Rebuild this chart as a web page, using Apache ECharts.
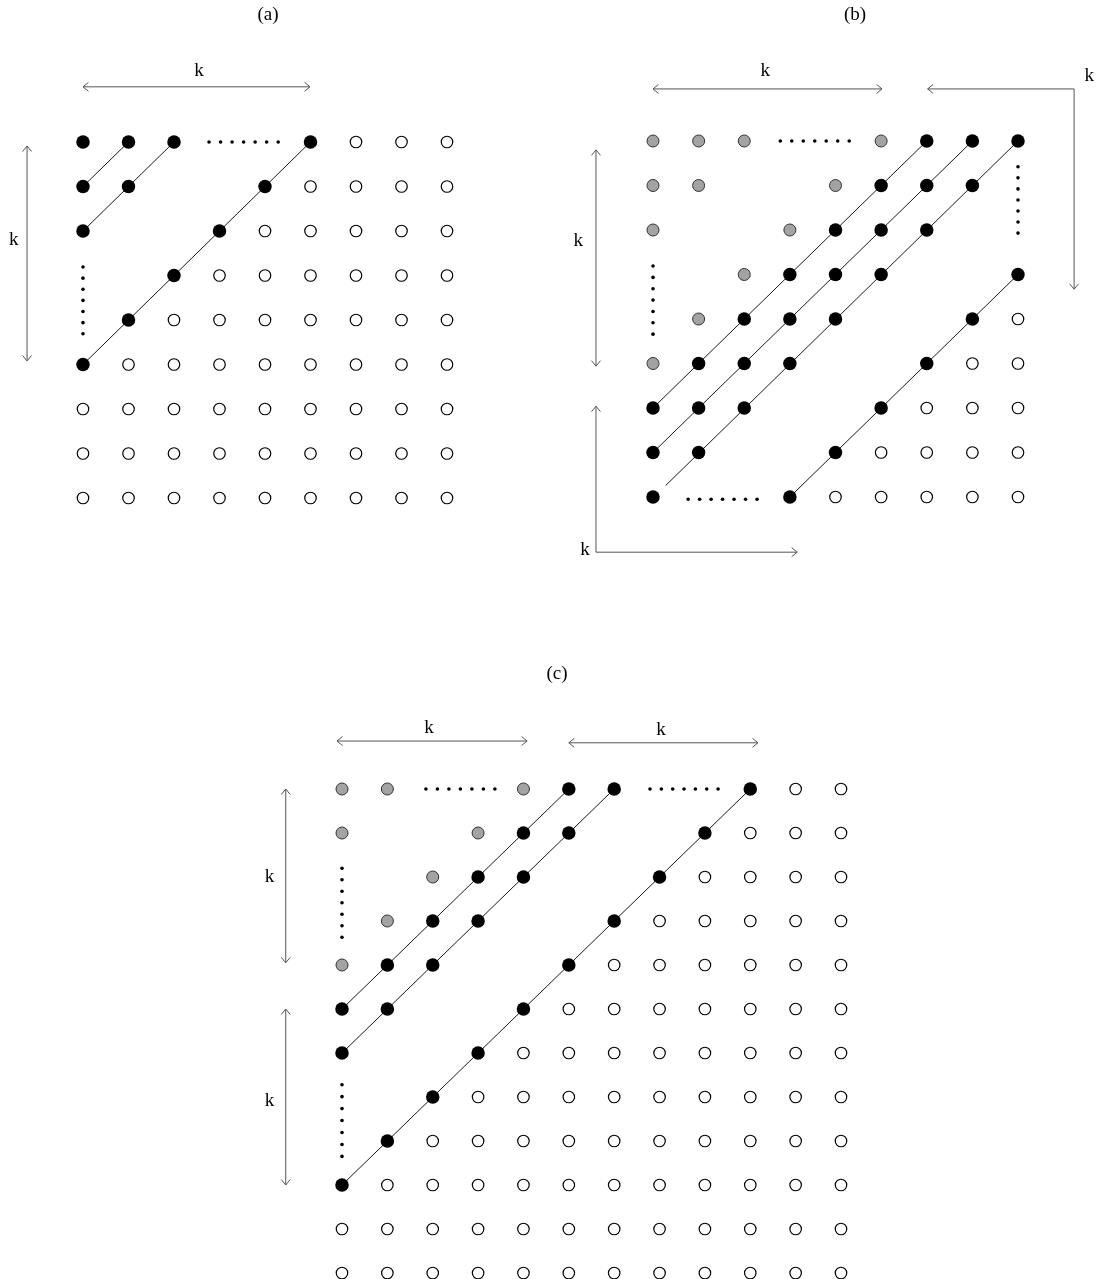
<!DOCTYPE html>
<html>
<head>
<meta charset="utf-8">
<script src="https://cdn.jsdelivr.net/npm/echarts@6/dist/echarts.min.js"></script>
<style>
html,body{margin:0;padding:0;background:#fff;}
#chart{width:1099px;height:1279px;}
</style>
</head>
<body>
<div id="chart"></div>
<script>
// ---------------- DATA (grid units: column index, row index) ----------------
// Panel (a): 9 x 9 lattice
const aBlackByRow = [[0,1,2,5],[0,1,4],[0,3],[2],[1],[0],[],[],[]];
const aGrayByRow  = [[],[],[],[],[],[],[],[],[]];
const aWhiteByRow = [[6,7,8],[5,6,7,8],[4,5,6,7,8],[3,4,5,6,7,8],[2,3,4,5,6,7,8],
                     [1,2,3,4,5,6,7,8],[0,1,2,3,4,5,6,7,8],[0,1,2,3,4,5,6,7,8],[0,1,2,3,4,5,6,7,8]];
const aDiagonals  = [[0,1,1,0],[0,2,2,0],[0,5,5,0]];
const aDotRuns    = [[2.77,0,4.29,0],[0,2.81,0,4.31]];
const aArrows     = [[0,-1.24,4.99,-1.24,1,1],[-1.23,0.09,-1.23,4.92,1,1]];
const aLabels     = [[2.55,-1.6],[-1.52,2.2]];

// Panel (b): 9 x 9 lattice
const bBlackByRow = [[6,7,8],[5,6,7],[4,5,6],[3,4,5,8],[2,3,4,7],[1,2,3,6],[0,1,2,5],[0,1,4],[0,3]];
const bGrayByRow  = [[0,1,2,5],[0,1,4],[0,3],[2],[1],[0],[],[],[]];
const bWhiteByRow = [[],[],[],[],[8],[7,8],[6,7,8],[5,6,7,8],[4,5,6,7,8]];
const bDiagonals  = [[0,6,6,0],[0,7,7,0],[0.28,7.74,8,0],[3,8,8,3]];
const bDotRuns    = [[2.79,0,4.30,0],[8,0.58,8,2.07],[0,2.81,0,4.34],[0.77,8.05,2.28,8.05]];
const bArrows     = [[0,-1.17,5.02,-1.17,1,1],[6.02,-1.17,9.23,-1.17,1,0],[9.23,-1.17,9.23,3.33,0,1],
                     [-1.25,0.2,-1.25,5.06,1,1],[-1.25,5.96,-1.25,9.24,1,0],[-1.25,9.24,3.16,9.24,0,1]];
const bLabels     = [[2.46,-1.57],[9.56,-1.46],[-1.64,2.25],[-1.49,9.2]];

// Panel (c): 12 x 12 lattice
const cBlackByRow = [[5,6,9],[4,5,8],[3,4,7],[2,3,6],[1,2,5],[0,1,4],[0,3],[2],[1],[0],[],[]];
const cGrayByRow  = [[0,1,4],[0,3],[2],[1],[0],[],[],[],[],[],[],[]];
const cWhiteByRow = [[10,11],[9,10,11],[8,9,10,11],[7,8,9,10,11],[6,7,8,9,10,11],[5,6,7,8,9,10,11],
                     [4,5,6,7,8,9,10,11],[3,4,5,6,7,8,9,10,11],[2,3,4,5,6,7,8,9,10,11],
                     [1,2,3,4,5,6,7,8,9,10,11],[0,1,2,3,4,5,6,7,8,9,10,11],[0,1,2,3,4,5,6,7,8,9,10,11]];
const cDiagonals  = [[0,5,5,0],[0,6,6,0],[0,9,9,0]];
const cDotRuns    = [[1.85,0,3.37,0],[6.79,0,8.29,0],[0,1.8,0,3.37],[0,6.72,0,8.35]];
const cArrows     = [[-0.11,-1.09,4.08,-1.09,1,1],[5.0,-1.05,9.17,-1.05,1,1],
                     [-1.24,0.0,-1.24,3.95,1,1],[-1.24,5.0,-1.24,9.0,1,1]];
const cLabels     = [[1.92,-1.38],[7.03,-1.34],[-1.6,2.0],[-1.6,7.1]];

const panelTitles = ['(a)','(b)','(c)'];
const axisMax     = [8, 8, 11];

// ---------------- LAYOUT / STYLE ----------------
const FONT = '19px "Liberation Serif", "Times New Roman", serif';
const grids = [
  {left:83,  top:142, width:364, height:356},
  {left:653, top:141, width:365, height:356},
  {left:342, top:789, width:499, height:484}
];
const titlePos = [[268,15],[855,15],[557,674]];
const DOTS_PER_RUN = 7;

function rowsToPoints(byRow){
  const pts = [];
  byRow.forEach(function(cols, r){ cols.forEach(function(c){ pts.push([c, r]); }); });
  return pts;
}

function segRender(params, api){
  const p1 = api.coord([api.value(0), api.value(1)]);
  const p2 = api.coord([api.value(2), api.value(3)]);
  return {type:'line', shape:{x1:p1[0],y1:p1[1],x2:p2[0],y2:p2[1]},
          style:{stroke:'#1a1a1a', lineWidth:1, fill:null}};
}

function dotRender(params, api){
  const p1 = api.coord([api.value(0), api.value(1)]);
  const p2 = api.coord([api.value(2), api.value(3)]);
  const kids = [];
  for (let i = 0; i < DOTS_PER_RUN; i++){
    const t = i / (DOTS_PER_RUN - 1);
    kids.push({type:'circle', shape:{cx:p1[0]+(p2[0]-p1[0])*t, cy:p1[1]+(p2[1]-p1[1])*t, r:1.8},
               style:{fill:'#000'}});
  }
  return {type:'group', children:kids};
}

function arrowHead(tip, from){
  const dx = tip[0]-from[0], dy = tip[1]-from[1];
  const L = Math.sqrt(dx*dx+dy*dy) || 1;
  const ux = dx/L, uy = dy/L, len = 5.5, w = 4.5;
  return {type:'polyline', shape:{points:[
            [tip[0]-ux*len - uy*w, tip[1]-uy*len + ux*w],
            [tip[0], tip[1]],
            [tip[0]-ux*len + uy*w, tip[1]-uy*len - ux*w]]},
          style:{stroke:'#555', lineWidth:1, fill:null}};
}

function arrowRender(params, api){
  const p1 = api.coord([api.value(0), api.value(1)]);
  const p2 = api.coord([api.value(2), api.value(3)]);
  const kids = [{type:'line', shape:{x1:p1[0],y1:p1[1],x2:p2[0],y2:p2[1]},
                 style:{stroke:'#555', lineWidth:1, fill:null}}];
  if (api.value(4)) kids.push(arrowHead(p1, p2));
  if (api.value(5)) kids.push(arrowHead(p2, p1));
  return {type:'group', children:kids};
}

function labelRender(params, api){
  const p = api.coord([api.value(0), api.value(1)]);
  return {type:'text', x:p[0], y:p[1],
          style:{text:'k', font:FONT, fill:'#000', align:'center', verticalAlign:'middle',
                 textAlign:'center', textVerticalAlign:'middle'}};
}

const panels = [
  {black:aBlackByRow, gray:aGrayByRow, white:aWhiteByRow, diag:aDiagonals, dots:aDotRuns, arrows:aArrows, labels:aLabels},
  {black:bBlackByRow, gray:bGrayByRow, white:bWhiteByRow, diag:bDiagonals, dots:bDotRuns, arrows:bArrows, labels:bLabels},
  {black:cBlackByRow, gray:cGrayByRow, white:cWhiteByRow, diag:cDiagonals, dots:cDotRuns, arrows:cArrows, labels:cLabels}
];

const xAxes = [], yAxes = [], series = [];
panels.forEach(function(p, i){
  xAxes.push({type:'value', gridIndex:i, min:0, max:axisMax[i], show:false});
  yAxes.push({type:'value', gridIndex:i, min:0, max:axisMax[i], inverse:true, show:false});
  const ax = {xAxisIndex:i, yAxisIndex:i};
  series.push(Object.assign({type:'custom', renderItem:segRender, data:p.diag, z:1, clip:false, silent:true}, ax));
  series.push(Object.assign({type:'scatter', data:rowsToPoints(p.white), symbol:'circle', symbolSize:11.5, z:3, silent:true,
    itemStyle:{color:'#fff', borderColor:'#000', borderWidth:1.2, opacity:1}}, ax));
  series.push(Object.assign({type:'scatter', data:rowsToPoints(p.gray), symbol:'circle', symbolSize:12, z:3, silent:true,
    itemStyle:{color:'#a3a3a3', borderColor:'#333', borderWidth:1, opacity:1}}, ax));
  series.push(Object.assign({type:'scatter', data:rowsToPoints(p.black), symbol:'circle', symbolSize:13.5, z:3, silent:true,
    itemStyle:{color:'#000', opacity:1}}, ax));
  series.push(Object.assign({type:'custom', renderItem:dotRender, data:p.dots, z:3, clip:false, silent:true}, ax));
  series.push(Object.assign({type:'custom', renderItem:arrowRender, data:p.arrows, z:3, clip:false, silent:true}, ax));
  series.push(Object.assign({type:'custom', renderItem:labelRender, data:p.labels, z:4, clip:false, silent:true}, ax));
});

const graphics = panelTitles.map(function(t, i){
  return {type:'text', x:titlePos[i][0], y:titlePos[i][1],
          style:{text:t, font:FONT, fill:'#000', align:'center', verticalAlign:'middle',
                 textAlign:'center', textVerticalAlign:'middle'}};
});

const chart = echarts.init(document.getElementById('chart'), null, {renderer:'canvas'});
chart.setOption({
  animation:false,
  backgroundColor:'#fff',
  grid: grids.map(function(g){ return Object.assign({outerBoundsMode:'none', containLabel:false, show:false}, g); }),
  xAxis: xAxes,
  yAxis: yAxes,
  series: series,
  graphic: graphics
});
</script>
</body>
</html>
